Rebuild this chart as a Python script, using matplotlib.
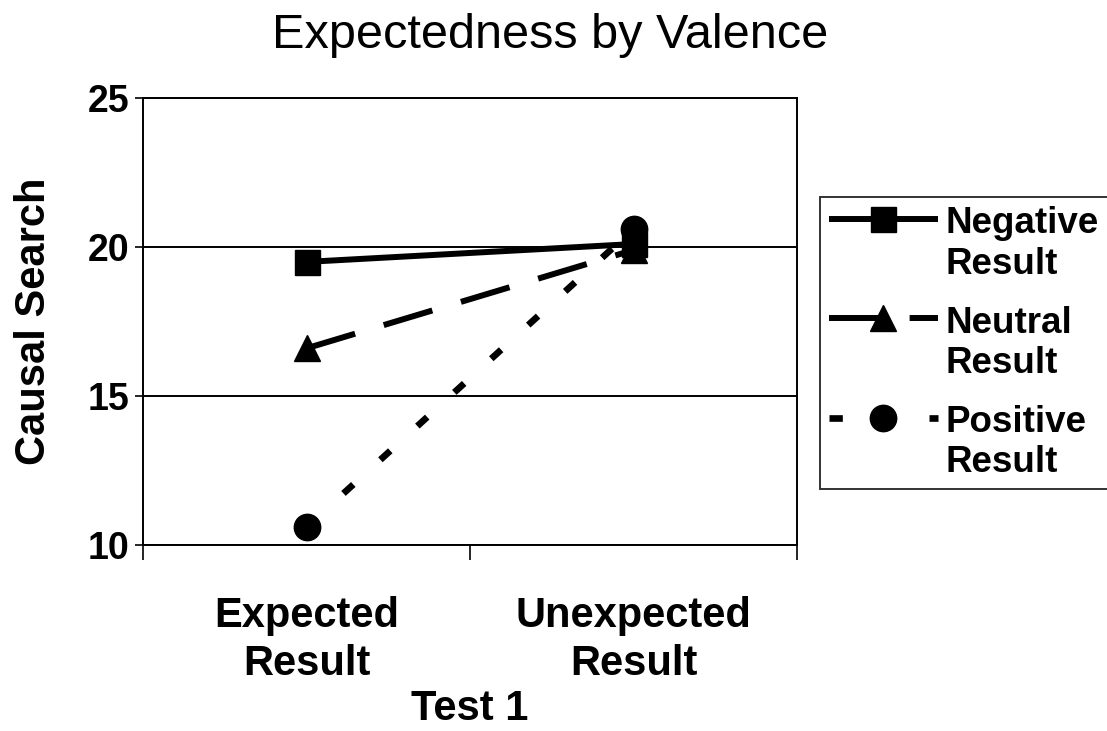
import matplotlib
matplotlib.use("Agg")
import matplotlib.pyplot as plt

plt.rcParams['font.family'] = ['Liberation Sans', 'DejaVu Sans']

categories = ["Expected\nResult", "Unexpected\nResult"]
negative = [19.5, 20.1]
neutral = [16.6, 19.9]
positive = [10.6, 20.6]
series_labels = ["Negative\nResult", "Neutral\nResult", "Positive\nResult"]
yticks = [10, 15, 20, 25]

fig = plt.figure(figsize=(11.07, 7.31), dpi=100)
ax = fig.add_axes([143 / 1107, 1 - 545 / 731, (797 - 143) / 1107, (545 - 98) / 731])

x = list(range(len(categories)))
lw = 4.3
h1, = ax.plot(x, negative, color='black', lw=lw, marker='s', ms=18,
              solid_capstyle='butt', label=series_labels[0], zorder=4)
h2, = ax.plot(x, neutral, color='black', lw=lw, marker='^', ms=19,
              dashes=(8.5, 5), dash_capstyle='butt', label=series_labels[1], zorder=3)
h3, = ax.plot(x, positive, color='black', lw=lw + 0.5, marker='o', ms=19,
              dashes=(2.0, 5.5), dash_capstyle='butt', label=series_labels[2], zorder=5)

ax.set_ylim(10, 25)
ax.set_xlim(-0.5, len(categories) - 0.5)
ax.set_yticks(yticks)
ax.set_yticklabels([str(v) for v in yticks], fontsize=27, fontweight='bold')
ax.tick_params(axis='y', direction='out', length=6, width=1.2, pad=4)

# category boundary ticks (unlabelled) and centred category labels
ax.set_xticks([-0.5, 0.5, 1.5])
ax.set_xticklabels(['', '', ''])
ax.tick_params(axis='x', which='major', direction='out', length=11, width=1.2)
ax.set_xticks(x, minor=True)
ax.set_xticklabels(categories, minor=True, fontsize=30, fontweight='bold', linespacing=1.25)
ax.tick_params(axis='x', which='minor', length=0, pad=37)

ax.grid(axis='y', color='black', lw=1.4)
ax.set_axisbelow(True)
for s in ax.spines.values():
    s.set_color('black')
    s.set_linewidth(1.4)

ax.set_ylabel("Causal Search", fontsize=30, fontweight='bold', labelpad=24)

fig.text(550 / 1107, 1 - 36 / 731, "Expectedness by Valence", fontsize=35,
         ha='center', va='center')
fig.text(470 / 1107, 1 - 709 / 731, "Test 1", fontsize=30, fontweight='bold',
         ha='center', va='center')

leg = fig.legend(handles=[h1, h2, h3], loc='upper left',
                 bbox_to_anchor=(820 / 1107, 1 - 197 / 731),
                 prop={'size': 26.5, 'weight': 'bold'},
                 frameon=True, fancybox=False, edgecolor='black',
                 handlelength=2.95, handletextpad=0.22, borderpad=0.25,
                 labelspacing=0.65, borderaxespad=0)
leg.get_frame().set_linewidth(1.4)
for col in leg._legend_handle_box.get_children():
    for row in col.get_children():
        row.align = 'top'

fig.savefig("out.png", dpi=100)
